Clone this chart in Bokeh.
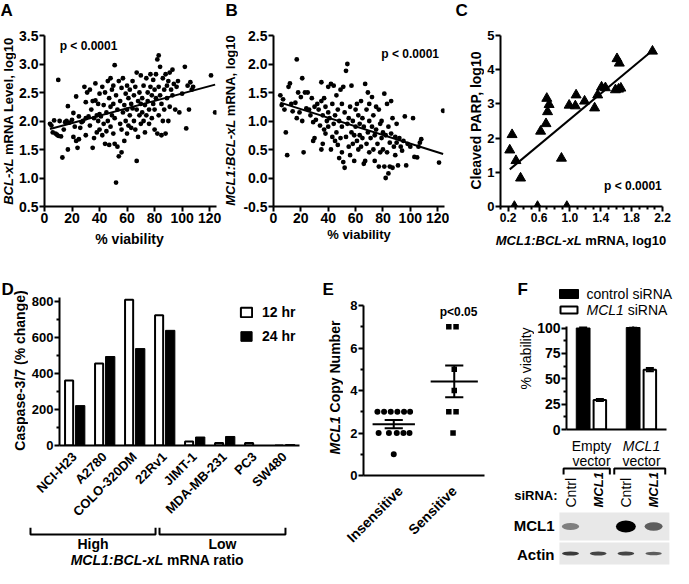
import math
import numpy as np
from bokeh.plotting import figure
from bokeh.layouts import row, column
from bokeh.models import Range1d, FixedTicker, Label, Legend, LegendItem, PrintfTickFormatter
from bokeh.embed import file_html
from bokeh.resources import INLINE
from bokeh.core.properties import value

FONT = "Liberation Sans"

# ====================== DATA ======================
# Panel A: % viability vs BCL-xL mRNA level (log10)
A_VIABILITY = [4, 5, 6, 7, 8, 9, 10, 10, 11, 12, 13, 14, 15, 16,
               17, 17, 18, 20, 21, 21, 22, 23, 23, 24, 25, 25, 26, 27, 28, 29, 30, 30, 30,
               31, 32, 33, 33, 34, 35, 35, 36, 36, 37, 37, 38, 38, 39, 39, 40, 40, 40,
               41, 42, 42, 43, 43, 44, 44, 45, 45, 46, 46, 47, 47, 48, 48, 48, 49, 49, 50, 50, 50,
               51, 51, 51, 52, 52, 53, 53, 54, 54, 55, 55, 56, 56, 56, 57, 57, 58, 58, 59, 59, 60, 60, 60,
               61, 61, 62, 62, 63, 63, 64, 64, 65, 65, 66, 66, 67, 67, 67, 68, 68, 69, 69, 70, 70, 70,
               71, 71, 72, 72, 73, 73, 74, 74, 75, 75, 76, 76, 77, 77, 78, 78, 79, 79, 80, 80, 80,
               81, 81, 82, 82, 83, 83, 83, 84, 84, 85, 85, 86, 86, 87, 87, 88, 88, 89, 89, 90, 90,
               91, 91, 92, 93, 93, 94, 95, 96, 97, 98, 100, 102, 103, 104, 105, 106, 107, 108,
               121, 124]
A_BCLXL = [1.95, 1.92, 1.80, 2.01, 1.78, 1.76, 2.72, 1.74, 2.00, 1.73, 1.36, 1.85, 1.98, 2.00,
           2.26, 1.50, 1.97, 2.02, 2.14, 1.72, 1.90, 2.43, 1.65, 1.53, 1.68, 2.08, 1.88, 1.98, 2.00, 2.60, 2.05, 2.33, 1.75,
           2.50, 2.08, 2.55, 1.92, 2.20, 2.35, 1.53, 2.05, 1.70, 2.36, 2.66, 2.10, 1.80, 2.00, 2.30, 2.12, 1.85, 2.48,
           2.08, 2.60, 1.75, 2.28, 1.95, 2.50, 1.60, 2.15, 1.82, 2.70, 2.00, 2.40, 1.58, 2.75, 2.25, 1.90, 2.55, 2.10, 2.62, 1.78, 2.30,
           2.98, 1.60, 2.05, 2.45, 0.92, 2.20, 1.55, 2.70, 1.38, 2.35, 1.95, 2.58, 1.85, 1.45, 2.75, 2.15, 2.28, 1.65, 2.48, 2.00, 2.62, 2.20, 1.78,
           2.40, 1.92, 2.55, 2.10, 2.30, 1.88, 2.70, 2.22, 2.45, 2.00, 2.60, 1.85, 2.85, 1.30, 2.20, 2.35, 1.72, 2.50, 2.10, 2.80, 1.95, 2.30,
           2.40, 2.15, 2.62, 2.00, 2.28, 1.80, 2.75, 2.10, 2.50, 2.35, 2.20, 1.95, 2.82, 2.60, 2.45, 2.05, 2.72, 2.30, 2.55, 1.85, 2.20,
           2.82, 2.40, 3.08, 1.78, 3.15, 2.60, 2.10, 2.95, 2.45, 2.30, 1.75, 2.75, 2.00, 2.55, 2.20, 2.82, 1.78, 2.40, 2.62, 2.00, 2.70,
           2.85, 2.25, 2.55, 2.90, 2.45, 2.65, 2.20, 2.60, 2.70, 2.15, 2.48, 2.95, 1.87, 2.62, 2.20, 2.68, 2.55, 2.60,
           2.80, 2.15]

# Panel B: % viability vs MCL1:BCL-xL mRNA ratio (log10)
B_VIABILITY = [5, 6, 7, 8, 9, 10, 11, 12, 13, 14,
               16, 17, 17, 18, 19, 20, 21, 21, 22, 23, 24, 25, 26, 27, 28, 29, 29, 30, 30,
               31, 32, 33, 34, 35, 35, 35, 36, 36, 37, 37, 38, 38, 39, 40, 40, 40,
               41, 42, 42, 43, 43, 44, 44, 45, 45, 46, 46, 47, 47, 48, 48, 49, 49, 50, 50, 50,
               51, 51, 52, 52, 53, 53, 54, 54, 55, 55, 56, 56, 57, 57, 58, 58, 59, 59, 60, 60,
               61, 61, 62, 62, 63, 63, 64, 64, 65, 65, 66, 66, 67, 67, 68, 68, 69, 69, 70, 70, 70,
               71, 72, 72, 73, 73, 74, 74, 75, 75, 76, 77, 77, 78, 78, 79, 79, 80, 80,
               81, 81, 82, 82, 83, 83, 84, 84, 85, 85, 86, 86, 87, 87, 88, 89, 89, 90, 90,
               91, 92, 93, 94, 95, 96, 97, 98, 100, 102, 103, 105, 106, 107, 108,
               121, 124]
B_RATIO = [1.45, 1.28, 1.38, 1.20, 0.80, 0.40, 1.60, 1.66, 1.30, 1.17,
           1.32, 2.08, 1.05, 1.50, 1.15, 1.42, 1.00, 1.75, 0.45, 1.50, 1.22, 1.50, 1.20, 1.10, 1.40, 0.98, 0.65, 0.70, 1.25,
           1.02, 1.30, 1.20, 0.92, 1.68, 1.35, 0.50, 1.10, 0.60, 1.40, 0.85, 1.25, 0.78, 1.00, 1.60, 0.90, 1.15,
           1.05, 1.65, 0.50, 0.72, 1.30, 1.62, 0.95, 1.10, 0.65, 1.45, 0.80, 1.20, 0.58, 1.00, 0.35, 1.55, 0.70, 1.30, 0.90, 0.45,
           1.60, 0.28, 0.18, 1.15, 1.88, 0.72, 2.00, 0.95, 1.05, 0.55, 0.40, 1.25, 0.80, 1.62, 0.60, 1.00, 0.30, 0.75, 0.90, 1.20,
           0.65, 1.30, 0.50, 1.10, 0.75, 0.95, 1.35, 0.55, 0.70, 1.05, 0.25, 0.90, 1.65, 0.30, 0.60, 1.20, 1.50, 0.80, 1.00, 0.45, 1.30,
           0.70, 1.42, 0.90, 0.50, 1.10, 0.75, 0.30, 1.25, 0.85, 0.60, 1.20, 0.20, 0.95, 0.45, 1.00, 0.70, 0.80, 0.50,
           1.48, 0.20, 0.00, 0.75, 0.45, 1.30, 0.08, 0.90, 0.62, 0.20, 1.35, 0.78, 0.18, 1.05, 0.55, 0.72, 0.40, 0.95, 0.62,
           0.22, 0.70, 0.55, 0.48, 0.65, 1.08, 0.22, 0.60, 0.55, 1.05, 0.37, 0.36, 0.55, 0.62, 0.68,
           0.27, 1.18]

# Panel C: MCL1:BCL-xL mRNA (log10) vs cleaved PARP (log10)
C_RATIO = [0.22, 0.25, 0.30, 0.28, 0.36, 0.58, 0.62, 0.69, 0.70, 0.71, 0.73, 0.89, 0.96, 0.99,
           1.07, 1.08, 1.19, 1.32, 1.36, 1.41, 1.46, 1.59, 1.63, 1.66, 1.61, 1.64, 2.07]
C_PARP = [1.65, 2.10, 1.34, 0.00, 0.83, 0.00, 2.20, 2.42, 3.16, 2.77, 2.98, 1.41, 0.00, 2.96,
          2.94, 3.26, 3.08, 2.88, 3.26, 3.49, 3.47, 3.41, 3.43, 3.46, 4.32, 4.19, 4.54]

# Panel D: caspase-3/7 (% change)
D_LINES = ["NCI-H23", "A2780", "COLO-320DM", "22Rv1", "JIMT-1", "MDA-MB-231", "PC3", "SW480"]
D_12HR = [360, 455, 808, 722, 22, 14, 14, 0]
D_24HR = [221, 493, 537, 638, 47, 50, 0, 5]
D_GROUPS = ["High", "Low"]

# Panel E: MCL1 copy number
E_CATS = ["Insensitive", "Sensitive"]
E_INS = [3, 3, 3, 3, 3, 3, 2, 2, 2, 2, 2, 1]
E_INS_JIT = [-0.27, -0.16, -0.05, 0.06, 0.17, 0.27, -0.25, -0.08, 0.05, 0.16, 0.26, 0.0]
E_SEN = [7, 7, 5, 4, 3, 3, 2]
E_SEN_JIT = [-0.09, 0.03, 0.0, 0.0, -0.09, 0.03, -0.02]

# Panel F: % viability and western blot
F_GROUPS = ["Empty vector", "MCL1 vector"]
F_GROUP_ITALIC = [False, True]
F_CTRL = [100.0, 100.5]
F_CTRL_ERR = [1.0, 2.0]
F_SIRNA = [29.0, 59.0]
F_SIRNA_ERR = [1.0, 1.5]
BLOT_LANES = ["Cntrl", "MCL1", "Cntrl", "MCL1"]
BLOT_MCL1 = [0.45, 0.0, 1.0, 0.6]
BLOT_ACTIN = [0.75, 0.7, 0.7, 0.6]

# ticks
A_XTICKS = [0, 20, 40, 60, 80, 100, 120]
A_YTICKS = [0.5, 1.0, 1.5, 2.0, 2.5, 3.0, 3.5]
B_YTICKS = [-0.5, 0.0, 0.5, 1.0, 1.5, 2.0, 2.5]
C_XTICKS = [0.2, 0.6, 1.0, 1.4, 1.8, 2.2]
C_XMINOR = [0.1, 0.3, 0.4, 0.5, 0.7, 0.8, 0.9, 1.1, 1.2, 1.3, 1.5, 1.6, 1.7, 1.9, 2.0, 2.1]
C_YTICKS = [0, 1, 2, 3, 4, 5]
D_YTICKS = [0, 200, 400, 600, 800]
D_YMINOR = [100, 300, 500, 700]
E_YTICKS = [0, 2, 4, 6, 8]
E_YMINOR = [1, 3, 5, 7]
F_YTICKS = [0, 25, 50, 75, 100]
F_YMINOR = [12.5, 37.5, 62.5, 87.5]

# ====================== HELPERS ======================
_REG = dict(zip(" %(),-./:<", [278, 889, 333, 333, 278, 333, 278, 278, 278, 584]))
_REG.update({d: 556 for d in "0123456789"})
_REG.update(dict(A=667, B=667, C=722, D=722, E=667, F=611, I=278, L=556, M=833, N=722, O=778,
                 P=667, R=722, S=667, T=611, V=667, a=556, b=556, c=500, d=556, e=556, f=278,
                 g=556, h=556, i=222, k=500, l=222, m=833, n=556, o=556, p=556, r=333, s=500,
                 t=278, u=556, v=500, x=500, y=500))
_BOLD = dict(zip(" %(),-./:<", [278, 889, 333, 333, 278, 333, 278, 278, 333, 584]))
_BOLD.update({d: 556 for d in "0123456789"})
_BOLD.update(dict(A=722, B=722, C=722, D=722, E=667, F=611, H=722, I=278, L=611, M=833, N=722,
                  O=778, P=667, R=722, S=667, T=611, V=667, a=556, b=611, c=556, d=611, e=556,
                  f=333, g=611, h=611, i=278, k=556, l=278, m=889, n=611, o=611, p=611, r=389,
                  s=556, t=333, u=611, v=556, x=556, y=556))


def tw(s, size, bold):
    t = _BOLD if bold else _REG
    return sum(t.get(c, 556) for c in s) * size / 1000.0


class Spec:
    def __init__(self, X0, Y0, W, H, mbl=0, mbr=0, mbt=0, mbb=0, xr=None, yr=None):
        self.X0, self.Y0, self.W, self.H = X0, Y0, W, H
        self.mbl, self.mbr, self.mbt, self.mbb = mbl, mbr, mbt, mbb
        self.xr = xr if xr is not None else (X0, X0 + W)
        self.yr = yr if yr is not None else (Y0 + H, Y0)
        self.fl = X0 + mbl
        self.fr = X0 + W - mbr
        self.ft = Y0 + mbt
        self.fb = Y0 + H - mbb

    def to_data(self, x, y):
        dx = self.xr[0] + (x - self.fl) / (self.fr - self.fl) * (self.xr[1] - self.xr[0])
        dy = self.yr[0] + (self.fb - y) / (self.fb - self.ft) * (self.yr[1] - self.yr[0])
        return dx, dy

    def x_to_layout(self, dx):
        return self.fl + (dx - self.xr[0]) / (self.xr[1] - self.xr[0]) * (self.fr - self.fl)


def _no_align(p):
    try:
        p.frame_align = False
    except Exception:
        pass


def style_axis(ax, size):
    ax.axis_line_width = 2
    ax.axis_line_color = "black"
    ax.major_tick_line_width = 2
    ax.major_tick_line_color = "black"
    ax.major_tick_out = 5
    ax.major_tick_in = 0
    ax.minor_tick_line_color = None
    ax.major_label_text_font = FONT
    ax.major_label_text_font_style = "bold"
    ax.major_label_text_color = "black"
    ax.major_label_text_font_size = f"{size}px"
    ax.major_label_standoff = 1


def axes_fig(s, xsize=13, ysize=13):
    p = figure(width=s.W, height=s.H, x_range=Range1d(*s.xr), y_range=Range1d(*s.yr),
               toolbar_location=None, output_backend="svg", title=None,
               min_border_left=s.mbl, min_border_right=s.mbr,
               min_border_top=s.mbt, min_border_bottom=s.mbb)
    _no_align(p)
    p.xgrid.visible = False
    p.ygrid.visible = False
    p.outline_line_color = None
    for ax in p.below:
        style_axis(ax, xsize)
    for ax in p.left:
        style_axis(ax, ysize)
    return p


def bare_fig(s):
    p = figure(width=s.W, height=s.H, x_range=Range1d(*s.xr), y_range=Range1d(*s.yr),
               toolbar_location=None, output_backend="svg", title=None, min_border=0,
               x_axis_type=None, y_axis_type=None)
    _no_align(p)
    p.xgrid.visible = False
    p.ygrid.visible = False
    p.outline_line_color = None
    return p


def minor(ax, ticks):
    ax.ticker.minor_ticks = ticks
    ax.minor_tick_line_color = "black"
    ax.minor_tick_line_width = 2
    ax.minor_tick_out = 3
    ax.minor_tick_in = 0


def lab(p, s, x, y, text, size, style="bold", align="left", baseline="middle", angle=0.0):
    dx, dy = s.to_data(x, y)
    p.add_layout(Label(x=dx, y=dy, text=text, text_font=FONT, text_font_size=f"{size}px",
                       text_font_style=style, text_color="black", text_align=align,
                       text_baseline=baseline, angle=angle))


def dlab(p, x, y, text, size, style="bold", align="left", baseline="middle"):
    p.add_layout(Label(x=x, y=y, text=text, text_font=FONT, text_font_size=f"{size}px",
                       text_font_style=style, text_color="black", text_align=align,
                       text_baseline=baseline))


def mixed(p, s, cx, cy, parts, size, vertical=False, anchor="center"):
    segs = []
    total = 0.0
    for t, st in parts:
        bold = "bold" in st
        lead = len(t) - len(t.lstrip(" "))
        total += tw(" " * lead, size, bold)
        segs.append((total, t.strip(" "), st))
        total += tw(t.strip(" "), size, bold)
    base = -total / 2 if anchor == "center" else 0.0
    for off, t, st in segs:
        pos = base + off
        if vertical:
            lab(p, s, cx, cy - pos, t, size, st, "left", "middle", math.pi / 2)
        else:
            lab(p, s, cx + pos, cy, t, size, st, "left", "middle")


def gtext(p, xs, ys, texts, size, style="normal", align="center", baseline="middle", angle=0.0):
    p.text(x=xs, y=ys, text=texts, text_font=value(FONT), text_font_size=value(f"{size}px"),
           text_font_style=style, text_align=align, text_baseline=baseline, angle=angle,
           text_color="black")


def fit_line(p, xs, ys):
    k, b = np.polyfit(xs, ys, 1)
    x0, x1 = min(xs), max(xs)
    p.line([x0, x1], [k * x0 + b, k * x1 + b], line_width=2, line_color="black")


VERT = math.pi / 2

# ====================== TOP ROW ======================
sTop = Spec(0, 0, 673, 27)
pTop = bare_fig(sTop)
lab(pTop, sTop, 0, 10, "A", 17)
lab(pTop, sTop, 225, 10, "B", 17)
lab(pTop, sTop, 455, 10, "C", 17)

sBot = Spec(0, 228, 673, 50)
pBot = bare_fig(sBot)

# ---- Panel A
sAyl = Spec(0, 27, 16, 201)
pAyl = bare_fig(sAyl)
mixed(pAyl, sAyl, 8, 120.5, [("BCL-xL", "bold italic"), (" mRNA Level, log10", "bold")], 13, vertical=True)

sA = Spec(16, 27, 206, 201, 26, 6, 8, 22, (0, 125), (0.5, 3.5))
pA = axes_fig(sA, 14, 14)
pA.xaxis.ticker = FixedTicker(ticks=A_XTICKS)
pA.yaxis.ticker = FixedTicker(ticks=A_YTICKS)
pA.yaxis.formatter = PrintfTickFormatter(format="%.1f")
n = min(len(A_VIABILITY), len(A_BCLXL))
pA.scatter(A_VIABILITY[:n], A_BCLXL[:n], marker="circle", size=4.8, fill_color="black", line_color=None)
fit_line(pA, A_VIABILITY[:n], A_BCLXL[:n])
dlab(pA, 11, 3.32, "p < 0.0001", 12)
lab(pBot, sBot, (sA.fl + sA.fr) / 2, 238, "% viability", 14, align="center")

# ---- Panel B
sByl = Spec(222, 27, 16, 201)
pByl = bare_fig(sByl)
mixed(pByl, sByl, 230, 120, [("MCL1:BCL-xL", "bold italic"), (" mRNA, log10", "bold")], 13, vertical=True)

sB = Spec(238, 27, 211, 201, 35, 5, 8, 22, (0, 125), (-0.5, 2.5))
pB = axes_fig(sB, 14, 14)
pB.xaxis.ticker = FixedTicker(ticks=A_XTICKS)
pB.yaxis.ticker = FixedTicker(ticks=B_YTICKS)
pB.yaxis.formatter = PrintfTickFormatter(format="%.1f")
n = min(len(B_VIABILITY), len(B_RATIO))
pB.scatter(B_VIABILITY[:n], B_RATIO[:n], marker="circle", size=4.8, fill_color="black", line_color=None)
fit_line(pB, B_VIABILITY[:n], B_RATIO[:n])
dlab(pB, 121, 2.18, "p < 0.0001", 12, align="right")
lab(pBot, sBot, (sB.fl + sB.fr) / 2, 234, "% viability", 13, align="center")

# ---- Panel C
sCyl = Spec(449, 27, 35, 201)
pCyl = bare_fig(sCyl)
lab(pCyl, sCyl, 475, 120, "Cleaved PARP, log10", 14, align="center", angle=VERT)

sC = Spec(484, 27, 189, 201, 15, 11, 8, 22, (0.1, 2.2), (0, 5))
pC = axes_fig(sC, 12, 13)
pC.xaxis.ticker = FixedTicker(ticks=C_XTICKS)
pC.xaxis.formatter = PrintfTickFormatter(format="%.1f")
minor(pC.xaxis, C_XMINOR)
pC.yaxis.ticker = FixedTicker(ticks=C_YTICKS)
pC.scatter(C_RATIO, C_PARP, marker="triangle", size=10, fill_color="black", line_color="black")
fit_line(pC, C_RATIO, C_PARP)
dlab(pC, 2.19, 0.6, "p < 0.0001", 12, align="right")
mixed(pBot, sBot, (sC.fl + sC.fr) / 2, 240, [("MCL1:BCL-xL", "bold italic"), (" mRNA, log10", "bold")], 13)

top_row = column(pTop, row(pAyl, pA, pByl, pB, pCyl, pC), pBot)

# ====================== PANEL D ======================
sDyl = Spec(0, 278, 28, 249)
pDyl = bare_fig(sDyl)
lab(pDyl, sDyl, 1, 288.5, "D", 17)
lab(pDyl, sDyl, 19.5, 370, "Caspase-3/7 (% change)", 14, align="center", angle=VERT)

sD = Spec(28, 278, 277, 249, 27, 6, 19, 75, (0, len(D_LINES)), (0, 820))
pD = axes_fig(sD, 13, 13)
centers = [i + 0.5 for i in range(len(D_LINES))]
pD.xaxis.ticker = FixedTicker(ticks=centers)
pD.xaxis.major_label_overrides = {c: name for c, name in zip(centers, D_LINES)}
pD.xaxis.major_label_orientation = math.pi / 4
pD.xaxis.major_tick_line_color = None
pD.xaxis.major_label_standoff = 4
pD.yaxis.ticker = FixedTicker(ticks=D_YTICKS)
minor(pD.yaxis, D_YMINOR)
r12 = pD.vbar(x=[c - 0.18 for c in centers], top=D_12HR, width=0.27, fill_color="white",
              line_color="black", line_width=2)
r24 = pD.vbar(x=[c + 0.19 for c in centers], top=D_24HR, width=0.31, fill_color="black",
              line_color="black", line_width=1)
legD = Legend(items=[LegendItem(label="12 hr", renderers=[r12]),
                     LegendItem(label="24 hr", renderers=[r24])],
              location=(180, sD.fb - 351), orientation="vertical", padding=0, margin=0, spacing=8,
              glyph_width=14, glyph_height=12, label_height=12, label_standoff=9,
              label_text_font=FONT, label_text_font_size="14px", label_text_font_style="bold",
              label_text_color="black", border_line_color=None, background_fill_alpha=0)
pD.add_layout(legD)

D_PX = (sD.fr - sD.fl) / len(D_LINES)
sDb = Spec(0, 527, 305, 41, xr=(-sD.fl / D_PX, (305 - sD.fl) / D_PX), yr=(41, 0))
pDb = bare_fig(sDb)
D_BRACKETS = [(-0.82, 3.28), (3.41, 7.54)]
pDb.multi_line(xs=[[a, a, b, b] for a, b in D_BRACKETS], ys=[[0, 7, 7, 0] for _ in D_BRACKETS],
               line_width=2, line_color="black")
gtext(pDb, [(a + b) / 2 for a, b in D_BRACKETS], [16] * len(D_GROUPS), D_GROUPS, 14, "bold")
mixed(pDb, sDb, sD.fl + 3.34 * D_PX, 559.5, [("MCL1:BCL-xL", "bold italic"), (" mRNA ratio", "bold")], 14)

D_block = column(row(pDyl, pD), pDb)

# ====================== PANEL E ======================
sEyl = Spec(305, 278, 38, 290)
pEyl = bare_fig(sEyl)
lab(pEyl, sEyl, 322, 288.5, "E", 17)
mixed(pEyl, sEyl, 334, 387, [("MCL1", "bold italic"), (" Copy Number", "bold")], 14, vertical=True)

sE = Spec(343, 278, 167, 290, 20, 26, 27, 93, (0, 2), (0, 8))
pE = axes_fig(sE, 14, 13)
pE.xaxis.ticker = FixedTicker(ticks=[0.5, 1.5])
pE.xaxis.major_label_overrides = {0.5: E_CATS[0], 1.5: E_CATS[1]}
pE.xaxis.major_label_orientation = math.pi / 4
pE.xaxis.major_tick_line_color = None
pE.xaxis.major_label_standoff = 8
pE.yaxis.ticker = FixedTicker(ticks=E_YTICKS)
minor(pE.yaxis, E_YMINOR)
pE.scatter([0.5 + d for d in E_INS_JIT], E_INS, marker="circle", size=6, fill_color="black", line_color=None)
pE.scatter([1.5 + d for d in E_SEN_JIT], E_SEN, marker="square", size=5.5, fill_color="black", line_color=None)
for c, ys, half in [(0.5, E_INS, 0.35), (1.5, E_SEN, 0.39)]:
    m = float(np.mean(ys))
    se = float(np.std(ys, ddof=1) / np.sqrt(len(ys)))
    pE.segment(x0=[c - half, c, c - 0.15, c - 0.15], y0=[m, m - se, m - se, m + se],
               x1=[c + half, c, c + 0.15, c + 0.15], y1=[m, m + se, m - se, m + se],
               line_width=2, line_color="black")
dx_, dy_ = sE.to_data(458, 311)
dlab(pE, dx_, dy_, "p<0.05", 12, align="center")

E_block = row(pEyl, pE)

# ====================== PANEL F ======================
sFg = Spec(510, 278, 163, 40)
pFg = bare_fig(sFg)
pFg.quad(left=[559], right=[578], top=[289], bottom=[298], fill_color="black", line_color="black")
pFg.quad(left=[560], right=[577], top=[306], bottom=[313], fill_color="white", line_color="black", line_width=2)
lab(pFg, sFg, 517, 289, "F", 17)
lab(pFg, sFg, 586, 293.5, "control siRNA", 14, "normal")
mixed(pFg, sFg, 586, 309.5, [("MCL1", "italic"), (" siRNA", "normal")], 14, anchor="left")

sFyl = Spec(510, 318, 24, 118)
pFyl = bare_fig(sFyl)
lab(pFyl, sFyl, 525, 358, "% viability", 14, "normal", align="center", angle=VERT)

sF = Spec(534, 318, 139, 118, 32, 7, 8, 7, (0, 2), (0, 101.5))
pF = axes_fig(sF, 13, 14)
pF.xaxis.ticker = FixedTicker(ticks=[])
pF.xaxis.major_label_text_font_size = "0px"
pF.xaxis.major_tick_line_color = None
pF.xaxis.major_label_standoff = 0
pF.yaxis.ticker = FixedTicker(ticks=F_YTICKS)
minor(pF.yaxis, F_YMINOR)
gx = [i + 0.5 for i in range(len(F_GROUPS))]
xc = [g - 0.167 for g in gx]
xs_ = [g + 0.167 for g in gx]
pF.vbar(x=xc, top=F_CTRL, width=0.275, fill_color="black", line_color="black")
pF.vbar(x=xs_, top=F_SIRNA, width=0.25, fill_color="white", line_color="black", line_width=2)
for xx, mm, ee in list(zip(xc, F_CTRL, F_CTRL_ERR)) + list(zip(xs_, F_SIRNA, F_SIRNA_ERR)):
    pF.segment(x0=[xx, xx - 0.08, xx - 0.08], y0=[mm - ee, mm + ee, mm - ee],
               x1=[xx, xx + 0.08, xx + 0.08], y1=[mm + ee, mm + ee, mm - ee],
               line_width=2, line_color="black")

LANE_PX = 27.7
LX0 = 1 - 60 / LANE_PX
sFl = Spec(510, 436, 163, 132, xr=(LX0, LX0 + 163 / LANE_PX), yr=(132, 0))
pFl = bare_fig(sFl)
glanes = [sFl.to_data(sF.x_to_layout(g), 0)[0] for g in gx]
first = [g.split(" ")[0] for g in F_GROUPS]
second = [g.split(" ")[1] for g in F_GROUPS]
for gl, w1, w2, it in zip(glanes, first, second, F_GROUP_ITALIC):
    gtext(pFl, [gl], [9], [w1], 14, "italic" if it else "normal")
    gtext(pFl, [gl], [24], [w2], 14, "normal")
F_BRACKETS = [(0.75, 2.42), (2.58, 4.42)]
pFl.multi_line(xs=[[a, a, b, b] for a, b in F_BRACKETS], ys=[[38, 32, 32, 38] for _ in F_BRACKETS],
               line_width=2, line_color="black")
lanes = [i + 1 for i in range(len(BLOT_LANES))]
cn = [(l, t) for l, t in zip(lanes, BLOT_LANES) if t == "Cntrl"]
mc = [(l, t) for l, t in zip(lanes, BLOT_LANES) if t != "Cntrl"]
gtext(pFl, [l for l, _ in cn], [71] * len(cn), [t for _, t in cn], 14, "normal", "left", "middle", VERT)
gtext(pFl, [l for l, _ in mc], [71] * len(mc), [t for _, t in mc], 13, "bold italic", "left", "middle", VERT)
lab(pFl, sFl, 557, 495, "siRNA:", 13, align="right")
pFl.quad(left=[0.6, 0.6], right=[4.57, 4.57], top=[76, 106], bottom=[104, 128],
         fill_color="#e8e8e8", line_color=None)
lab(pFl, sFl, 554, 525, "MCL1", 15, align="right")
lab(pFl, sFl, 554, 554, "Actin", 15, align="right")
pFl.ellipse(x=lanes, y=[90] * len(lanes), width=[0.55 + 0.17 * v for v in BLOT_MCL1],
            height=[3 + 9 * v for v in BLOT_MCL1], fill_color="black", fill_alpha=BLOT_MCL1,
            line_color=None)
pFl.ellipse(x=lanes, y=[117] * len(lanes), width=[0.5 + 0.15 * v for v in BLOT_ACTIN],
            height=[2.5 + 2 * v for v in BLOT_ACTIN], fill_color="black", fill_alpha=BLOT_ACTIN,
            line_color=None)

F_block = column(pFg, row(pFyl, pF), pFl)

# ====================== LAYOUT ======================
layout = column(top_row, row(D_block, E_block, F_block))
open("out.html", "w").write(file_html(layout, INLINE))
